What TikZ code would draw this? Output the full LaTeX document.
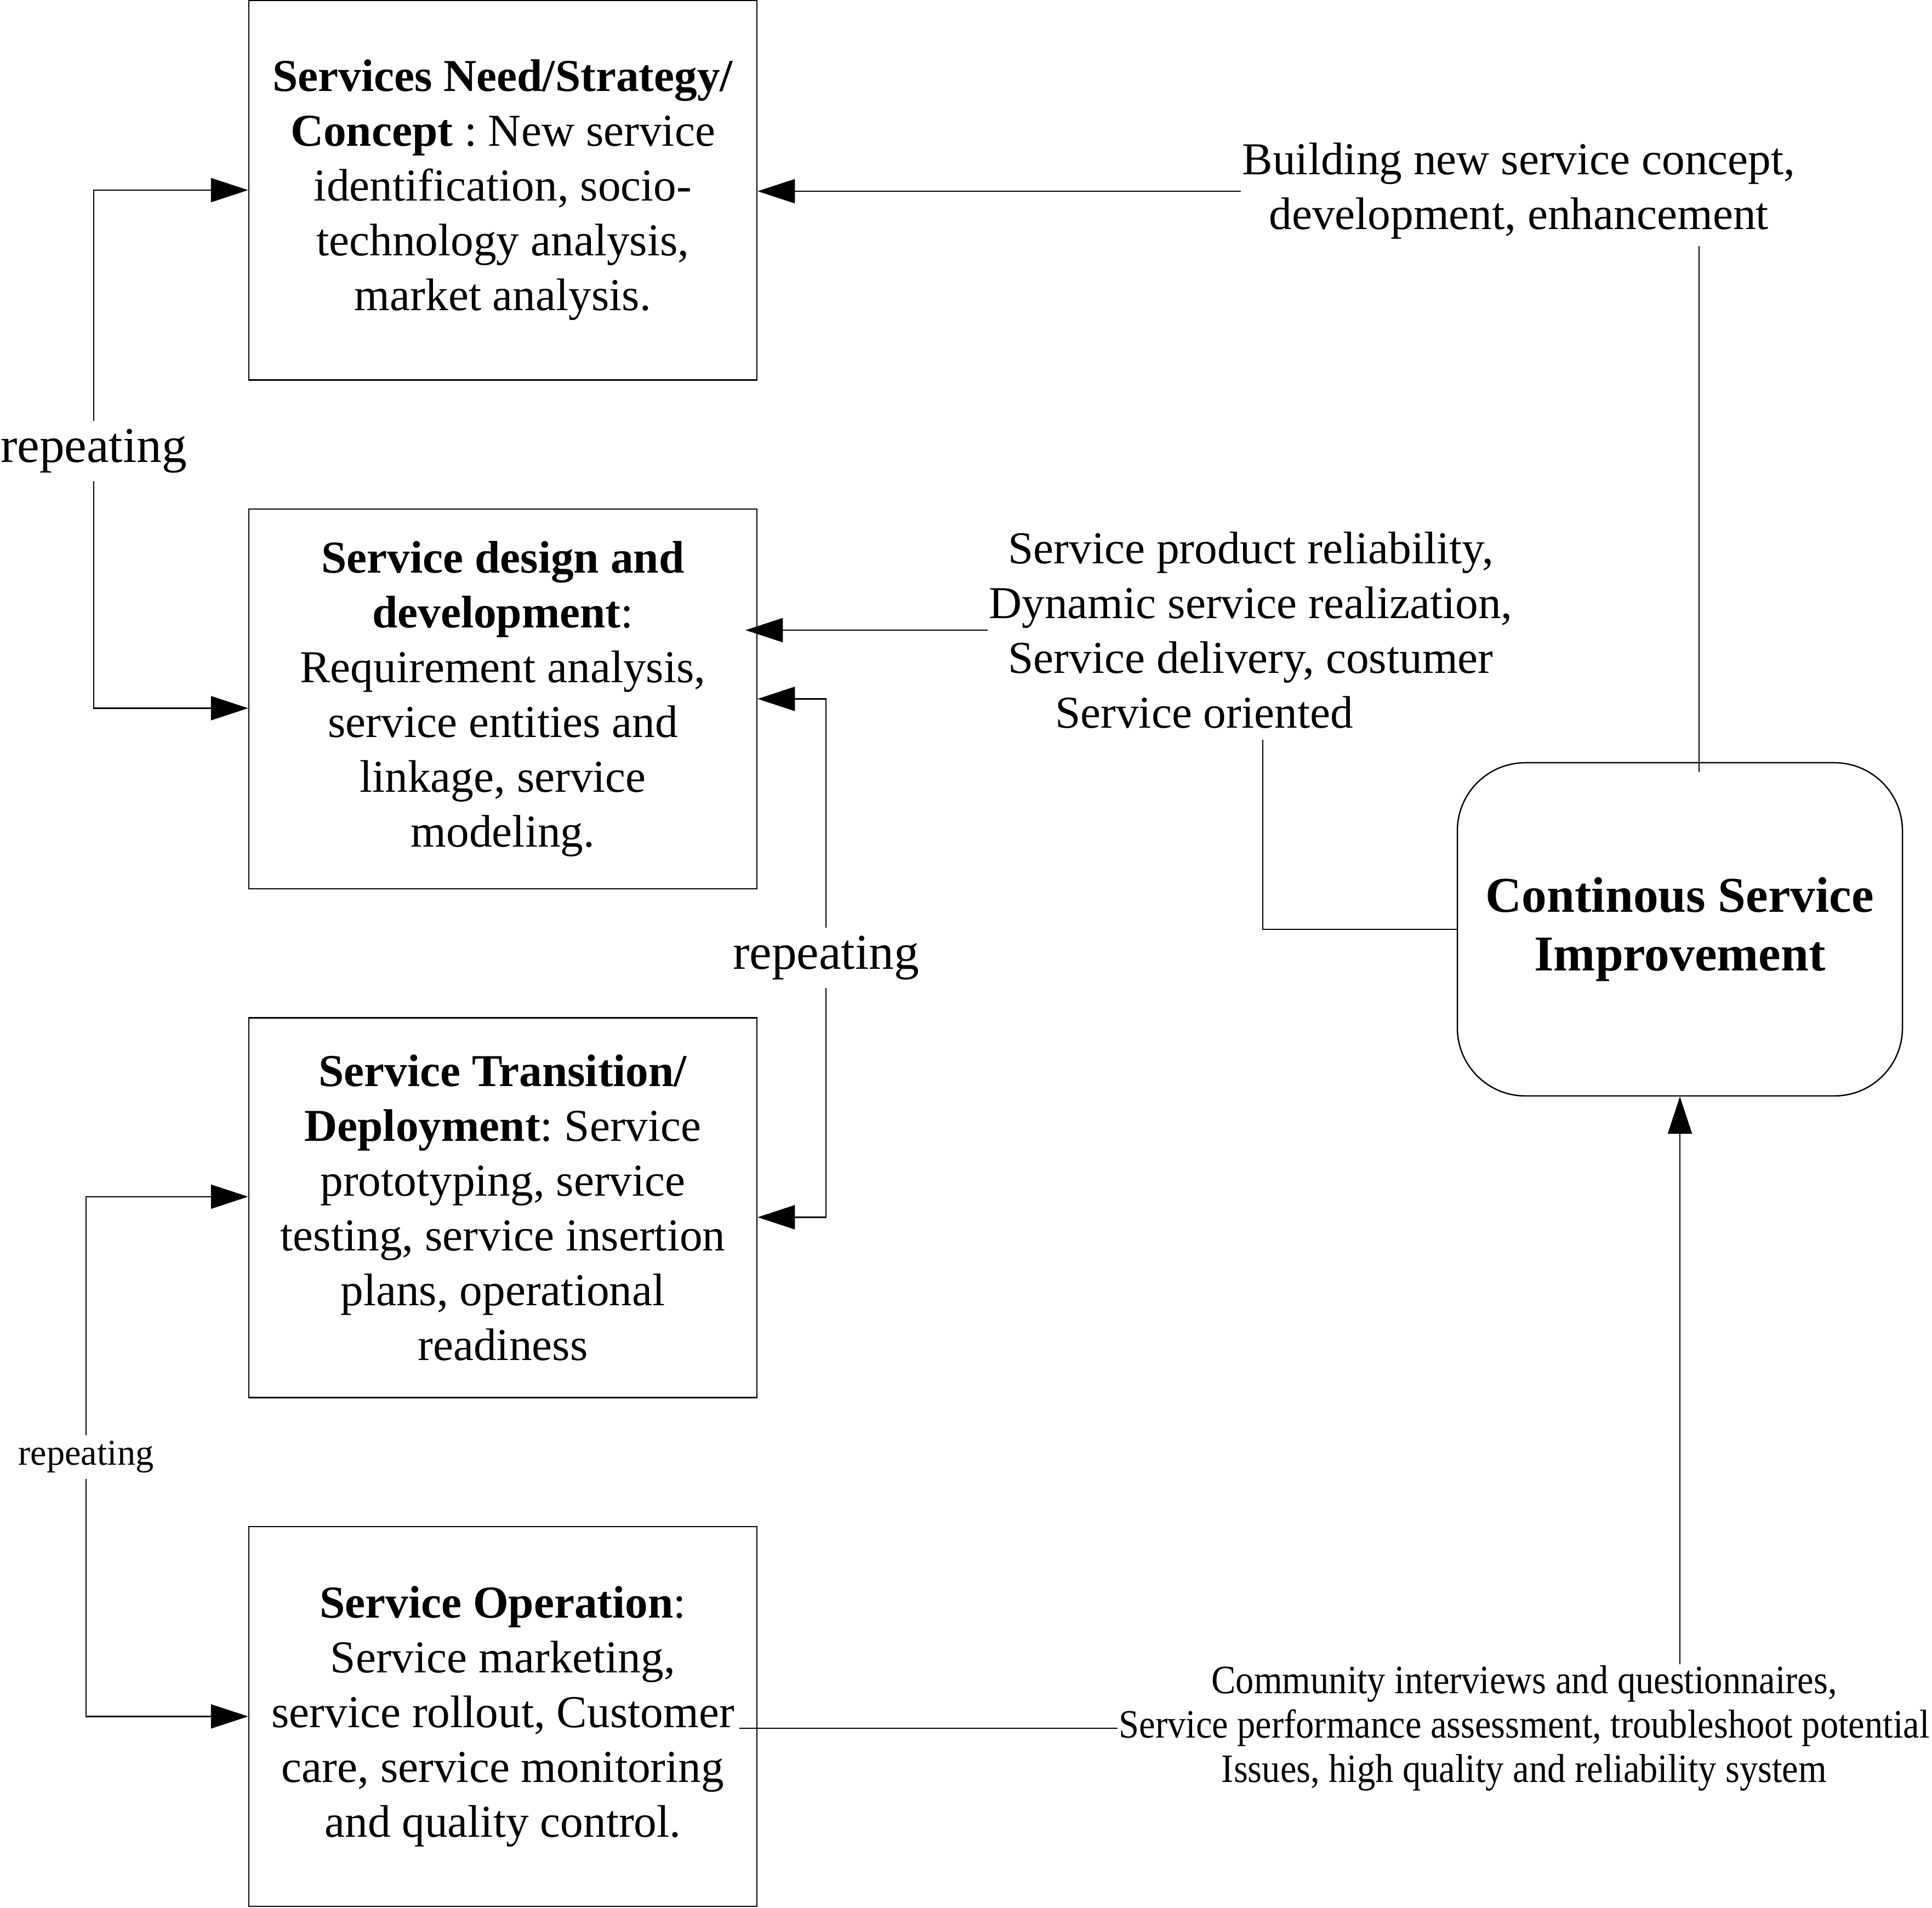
\documentclass[tikz,border=0pt]{standalone}
\usepackage{fontspec}
\setmainfont{Liberation Serif}
\usetikzlibrary{arrows.meta}
\usetikzlibrary{positioning}
\frenchspacing
\tikzset{phase/.style = {draw, line width=0.7pt, minimum width=9.27cm, minimum height=6.93cm,
                         align=center, inner sep=0pt, font=\fontsize{23.7}{28.45}\selectfont},
         note/.style = {align=center, inner sep=0.5pt, font=\fontsize{23.7}{28.45}\selectfont},
         smallnote/.style = {align=center, inner sep=0.5pt, font=\fontsize{18.9}{23}\selectfont},
         loopnote/.style = {inner sep=4pt, font=\fontsize{26}{31}\selectfont},
         arr/.style = {line width=0.7pt, -{Triangle[length=6.8mm, width=4.4mm]}},
         link/.style = {line width=0.45pt}}

\begin{document}
\begin{tikzpicture}[node distance=2.33cm]
    \useasboundingbox (0, 0) rectangle (35.25, 34.81);
    % the four phases
    \node [phase] (need) at (9.175, 31.34) {\textbf{Services Need/Strategy/}\\ \textbf{Concept} : New service\\ identification, socio-\\ technology analysis,\\ market analysis.};
    \node [phase, below = of need] (design) {\textbf{Service design and}\\ \textbf{development}:\\ Requirement analysis,\\ service entities and\\ linkage, service\\ modeling.};
    \node [phase, below = of design] (transition) {\textbf{Service Transition/}\\ \textbf{Deployment}: Service\\ prototyping, service\\ testing, service insertion\\ plans, operational\\ readiness};
    \node [phase, below = of transition] (operation) {\textbf{Service Operation}:\\ Service marketing,\\ service rollout, Customer\\ care, service monitoring\\ and quality control.};
    \node [draw, line width=0.7pt, rounded corners=1.24cm, minimum width=8.12cm, minimum height=6.08cm,
           align=center, font=\fontsize{26}{30.7}\selectfont\bfseries] (csi) at (30.65, 17.85) {Continous Service\\ Improvement};
    % feedback texts
    \node [note] (building) at (27.71, 31.32) {Building new service concept,\\ development, enhancement};
    \node [note] (reliab) at (22.82, 23.31) {Service product reliability,\\ Dynamic service realization,\\ Service delivery, costumer\\ Service oriented\hspace*{1.7cm}};
    \node [smallnote, xscale=0.905, font=\fontsize{20.9}{23}\selectfont] (survey) at (27.81, 3.27) {Community interviews and questionnaires,\\ Service performance assessment, troubleshoot potential\\ Issues, high quality and reliability system};
    % repeating loops
    \node [loopnote] (rep1) at (1.71, 26.58) {repeating};
    \node [loopnote] (rep2) at (15.07, 17.33) {repeating};
    \node [smallnote, inner sep=3pt] (rep3) at (1.57, 8.22) {repeating};
    \draw [arr] (rep1) |- (need.west);
    \draw [arr] (rep1) |- ([yshift=-1.7mm]design.west);
    \draw [arr] (rep2) |- (design.east);
    \draw [arr] (rep2) |- ([yshift=-1.75mm]transition.east);
    \draw [arr] (rep3) |- ([yshift=2mm]transition.west);
    \draw [arr] (rep3) |- (operation.west);
    % improvement feedback
    \draw [arr] (building.west) -- (building.west -| need.east);
    \draw [link] ([xshift=3.5mm, yshift=-1.8mm]csi.north) -- ([xshift=3.5mm, yshift=-1mm]csi.north |- building.south);
    \draw [arr, shorten >=-2.2mm] (reliab.west) -- (reliab.west -| design.east);
    \draw [link] (csi.west) -| ([xshift=2.2mm, yshift=-1.8mm]reliab.south);
    \draw [line width=0.7pt] ([xshift=-3.3mm]operation.east |- survey.west) -- (survey.west);
    \draw [arr] (survey.north -| csi.south) -- (csi.south);
  \end{tikzpicture}
\end{document}
